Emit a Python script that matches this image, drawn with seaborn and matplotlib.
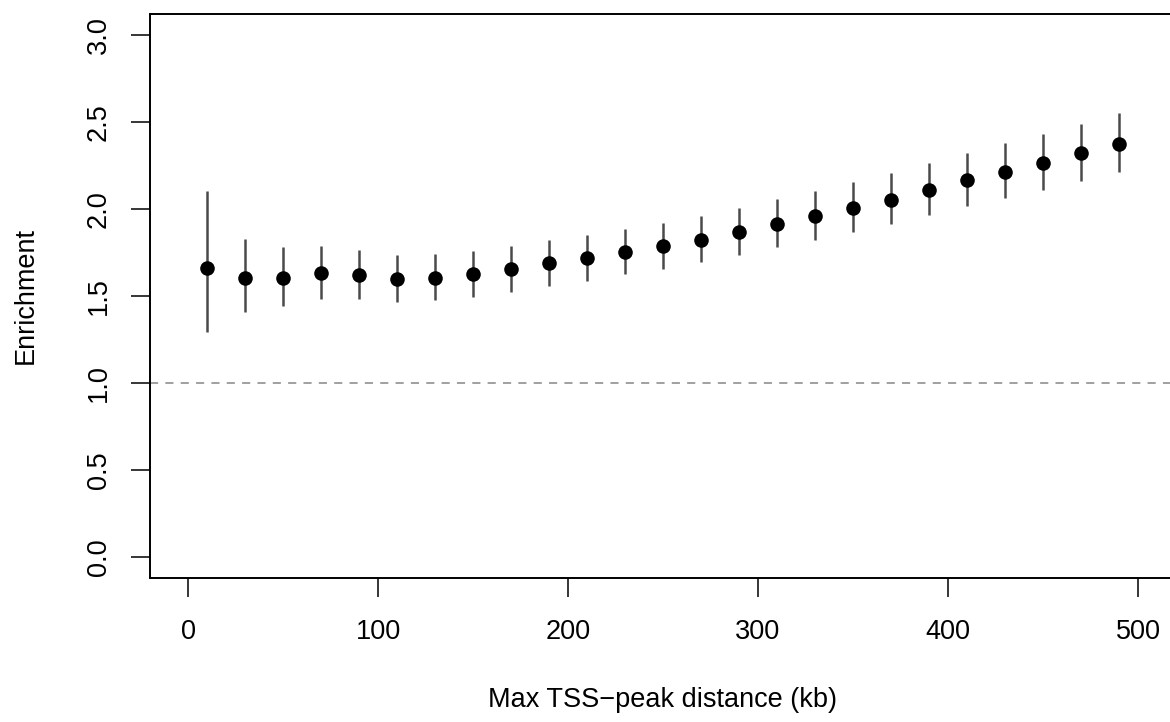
import numpy as np
import pandas as pd
import seaborn as sns
import matplotlib.pyplot as plt

# Data
distance = [10, 30, 50, 70, 90, 110, 130, 150, 170, 190, 210, 230, 250,
            270, 290, 310, 330, 350, 370, 390, 410, 430, 450, 470, 490]
enrichment = [1.661, 1.605, 1.605, 1.630, 1.619, 1.598, 1.605, 1.626, 1.653,
              1.690, 1.719, 1.753, 1.786, 1.824, 1.865, 1.915, 1.960, 2.005,
              2.053, 2.111, 2.164, 2.214, 2.262, 2.320, 2.376]
lower = [1.296, 1.407, 1.442, 1.480, 1.484, 1.467, 1.478, 1.496, 1.524,
         1.559, 1.586, 1.624, 1.657, 1.696, 1.736, 1.782, 1.824, 1.866,
         1.911, 1.964, 2.016, 2.065, 2.108, 2.163, 2.214]
upper = [2.103, 1.826, 1.782, 1.788, 1.767, 1.734, 1.740, 1.759, 1.786,
         1.820, 1.849, 1.886, 1.920, 1.961, 2.003, 2.055, 2.105, 2.153,
         2.205, 2.266, 2.324, 2.378, 2.428, 2.489, 2.549]
yticks = [0.0, 0.5, 1.0, 1.5, 2.0, 2.5, 3.0]
xticks = [0, 100, 200, 300, 400, 500]

df = pd.DataFrame({"distance": distance, "enrichment": enrichment,
                   "lower": lower, "upper": upper})

sns.set_style("ticks")
plt.rcParams['font.family'] = ['Liberation Sans', 'DejaVu Sans']
plt.rcParams['text.color'] = 'black'
plt.rcParams['axes.labelcolor'] = 'black'
plt.rcParams['xtick.color'] = 'black'
plt.rcParams['ytick.color'] = 'black'

fig = plt.figure(figsize=(11.7, 7.22), dpi=100)
ax = fig.add_axes([150 / 1170, 144 / 722, 1026 / 1170, 564 / 722])

ax.axhline(1.0, color='#999999', lw=1.3, linestyle=(0, (4.5, 4)), zorder=1)
ax.vlines(df["distance"], df["lower"], df["upper"], color='#4a4a4a', lw=1.8, zorder=2)
sns.scatterplot(data=df, x="distance", y="enrichment", color='black', s=110,
                edgecolor='black', linewidth=0, ax=ax, zorder=3)

ax.set_xlim(-20, 520)
ax.set_ylim(-0.12, 3.12)
ax.set_xticks(xticks)
ax.set_xticklabels([str(t) for t in xticks])
ax.set_yticks(yticks)
ax.set_yticklabels([f"{t:.1f}" for t in yticks], rotation=90, va='center')

for s in ax.spines.values():
    s.set_visible(True)
    s.set_linewidth(1.4)
    s.set_color('black')

ax.tick_params(axis='both', length=13.5, width=1.1, colors='black', labelsize=19.5)
ax.tick_params(axis='x', pad=16)
ax.tick_params(axis='y', pad=14)
ax.set_xlabel('Max TSS\u2212peak distance (kb)', fontsize=19.5, labelpad=30)
ax.set_ylabel('Enrichment', fontsize=19.5, labelpad=34)

fig.savefig('out.png', dpi=100)
